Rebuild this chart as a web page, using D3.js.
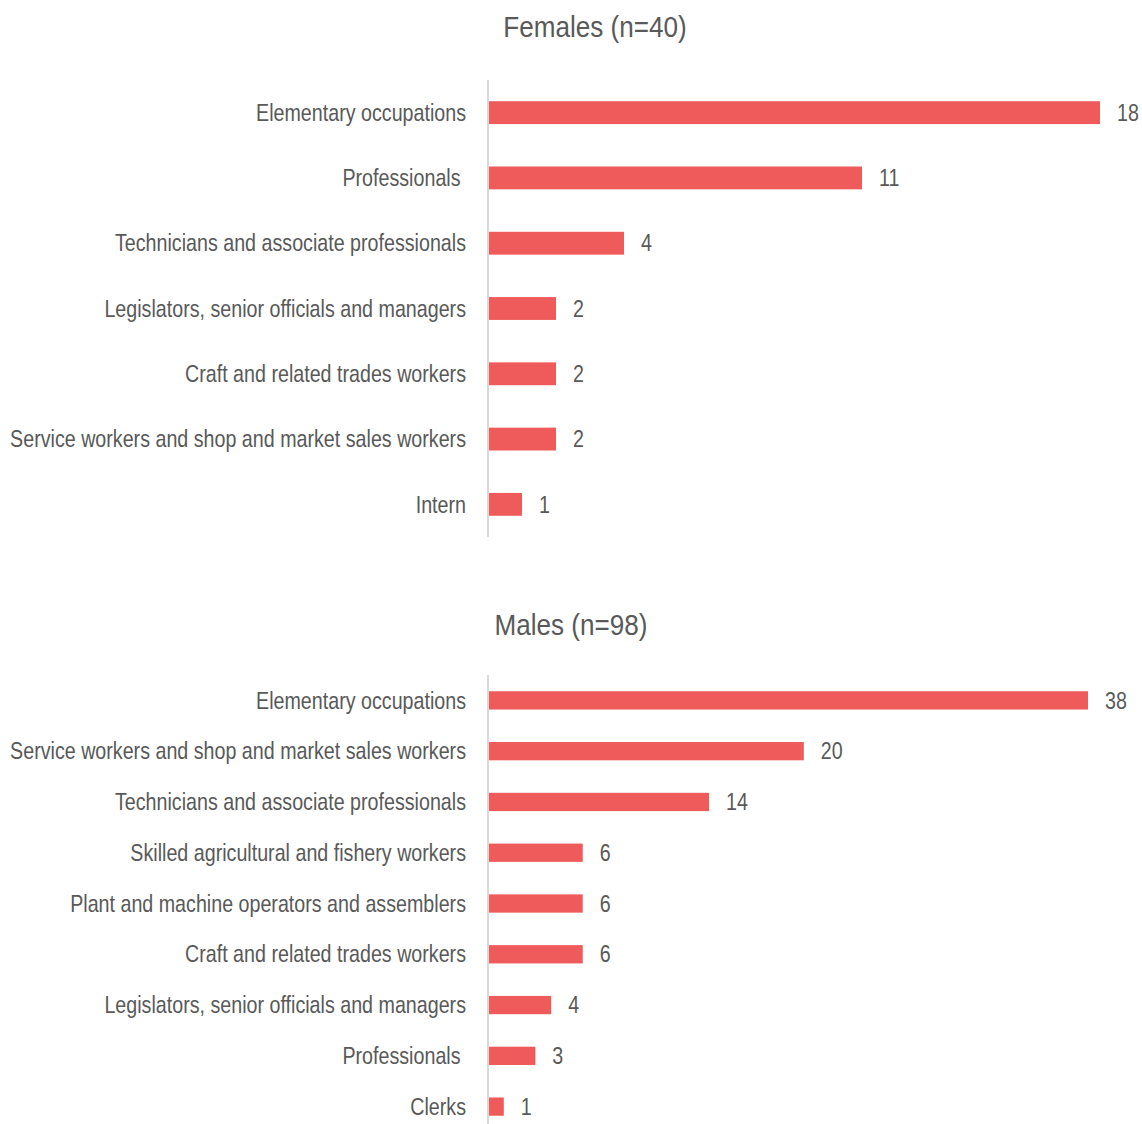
<!DOCTYPE html>
<html>
<head>
<meta charset="utf-8">
<script src="https://cdn.jsdelivr.net/npm/d3@7"></script>
<style>
  html, body { margin: 0; padding: 0; background: #fff; }
  svg text { font-family: "Liberation Sans", Arial, sans-serif; fill: #595959; white-space: pre; }
</style>
</head>
<body>
<svg id="chart" width="1142" height="1124"></svg>
<script>
// Occupation counts by sex
const femaleCategories = [
  "Elementary occupations",
  "Professionals ",
  "Technicians and associate professionals",
  "Legislators, senior officials and managers",
  "Craft and related trades workers",
  "Service workers and shop and market sales workers",
  "Intern"
];
const femaleValues = [18, 11, 4, 2, 2, 2, 1];

const maleCategories = [
  "Elementary occupations",
  "Service workers and shop and market sales workers",
  "Technicians and associate professionals",
  "Skilled agricultural and fishery workers",
  "Plant and machine operators and assemblers",
  "Craft and related trades workers",
  "Legislators, senior officials and managers",
  "Professionals ",
  "Clerks"
];
const maleValues = [38, 20, 14, 6, 6, 6, 4, 3, 1];

const titles = ["Females (n=40)", "Males (n=98)"];

const svg = d3.select("#chart");
const barColor = "#ef5a5a";
const axisX = 488;
// narrow lettering: regular sans squeezed horizontally
const narrow = 0.82;
const titleNarrow = 0.9;

function drawPanel(cfg) {
  const g = svg.append("g");
  const x = d3.scaleLinear().domain([0, cfg.max]).range([axisX, cfg.right]);
  const y = d3.scaleBand().domain(cfg.categories).range([cfg.top, cfg.bottom])
    .paddingInner(cfg.pad).paddingOuter(cfg.pad / 2);

  g.append("text")
    .attr("transform", `translate(${cfg.titleX},${cfg.titleY}) scale(${titleNarrow},1)`)
    .attr("text-anchor", "middle")
    .style("font-size", "29px")
    .text(cfg.title);

  const data = cfg.categories.map((c, i) => ({ c, v: cfg.values[i] }));

  g.selectAll("rect").data(data).join("rect")
    .attr("x", x(0) + 1)
    .attr("y", d => y(d.c))
    .attr("width", d => x(d.v) - x(0) - 1)
    .attr("height", y.bandwidth())
    .attr("fill", barColor);

  // category axis: vertical rule plus right-aligned labels
  const axis = d3.axisLeft(y).tickSize(0).tickPadding(0);
  const ag = g.append("g").attr("transform", `translate(${axisX},0)`).call(axis);
  ag.select(".domain").attr("stroke", "#d9d9d9").attr("stroke-width", 2)
    .attr("d", `M0,${cfg.top}V${cfg.bottom}`);
  ag.selectAll(".tick text")
    .attr("x", 0)
    .attr("dy", "0.34em")
    .attr("transform", `translate(-22,0) scale(${narrow},1)`)
    .attr("fill", "#595959")
    .style("font-size", "24px")
    .style("white-space", "pre")
    .style("font-family", "'Liberation Sans', Arial, sans-serif");

  g.selectAll("text.val").data(data).join("text")
    .attr("class", "val")
    .attr("transform", d => `translate(${x(d.v) + 17},${y(d.c) + y.bandwidth() / 2}) scale(${narrow},1)`)
    .attr("dy", "0.34em")
    .style("font-size", "24px")
    .text(d => d.v);
}

drawPanel({
  categories: femaleCategories, values: femaleValues, max: 18, right: 1100,
  top: 80, bottom: 537, pad: 0.65, title: titles[0], titleX: 595, titleY: 37
});
drawPanel({
  categories: maleCategories, values: maleValues, max: 38, right: 1088,
  top: 675, bottom: 1132, pad: 0.64, title: titles[1], titleX: 571, titleY: 635
});
</script>
</body>
</html>
